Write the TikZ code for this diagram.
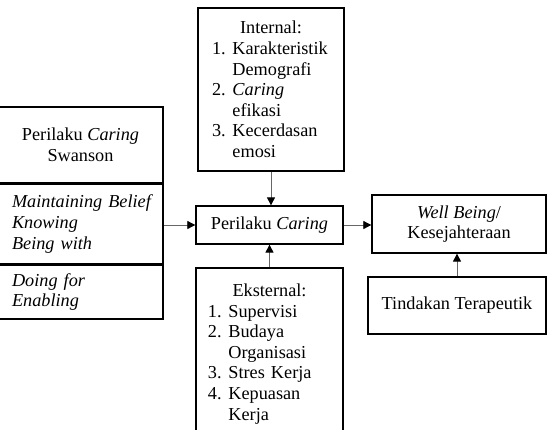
\documentclass[tikz,border=0pt]{standalone}
\usepackage{fontspec}
\setmainfont{Liberation Serif}
\usetikzlibrary{arrows.meta,positioning}
\newcommand{\nitem}[2]{\makebox[\linewidth][l]{\makebox[14pt][l]{#1}#2}}
\newcommand{\nline}[1]{\makebox[\linewidth][l]{\hspace*{14pt}#1}}

\begin{document}
\begin{tikzpicture}[x=0.685pt,y=-0.685pt,>={Triangle[length=5.5pt,width=5.5pt,color=black]},
        font=\fontsize{12.5}{14.1}\selectfont]
        \tikzstyle{box}=[draw=black,line width=0.9pt,fill=none,text=black,inner sep=0pt]
        \tikzstyle{link}=[->,draw=black!60,line width=0.6pt]
        \useasboundingbox (0,0) rectangle (548,430);

        \node[box,text width=80.8pt,inner xsep=9.6pt,minimum height=111.7pt,align=center] (int) at (271,89.5)
            {Internal:\\ \nitem{1.}{Karakteristik}\\ \nline{Demografi}\\ \nitem{2.}{\textit{Caring}}\\
             \nline{efikasi}\\ \nitem{3.}{Kecerdasan}\\ \nline{emosi}};
        \node[box,minimum width=100.7pt,minimum height=26pt] (pc) at (269.5,225) {Perilaku \textit{Caring}};
        \node[box,text width=84.3pt,inner xsep=8.2pt,minimum height=117.8pt,align=center] (eks) at (269.5,354)
            {Eksternal:\\ \nitem{1.}{Supervisi}\\ \nitem{2.}{Budaya}\\ \nline{Organisasi}\\
             \nitem{3.}{Stres Kerja}\\ \nitem{4.}{Kepuasan}\\ \nline{Kerja}};

        % Swanson
        \node[box,minimum width=113pt,minimum height=52pt,align=center] (sw) at (80.5,145)
            {Perilaku \textit{Caring}\\Swanson};
        \node[box,line width=1.2pt,below=0pt of sw,text width=93.8pt,inner xsep=9.6pt,minimum height=54.1pt,
            align=left,font=\fontsize{12.5}{14.1}\selectfont\itshape] (swmid)
            {\mbox{Maintaining Belief}\\Knowing\\Being with};
        \node[box,below=0pt of swmid,text width=93.8pt,inner xsep=9.6pt,minimum height=37pt,align=left,
            font=\fontsize{12.5}{14.1}\selectfont\itshape] (swbot) {Doing for\\Enabling};

        \node[box,minimum width=119.2pt,minimum height=39.7pt,align=center] (wb) at (459,224)
            {\textit{Well Being}/\\Kesejahteraan};
        \node[box,minimum width=121.9pt,minimum height=39pt] (tt) at (457,305.5) {Tindakan Terapeutik};

        \path (int.south) edge[link] (int.south |- pc.north)
        (eks.north) edge[link] (eks.north |- pc.south)
        (pc.west -| swmid.east) edge[link] (pc.west)
        (pc.east) edge[link] (pc.east -| wb.west)
        (tt.north) edge[link] (tt.north |- wb.south);
    \end{tikzpicture}
\end{document}
